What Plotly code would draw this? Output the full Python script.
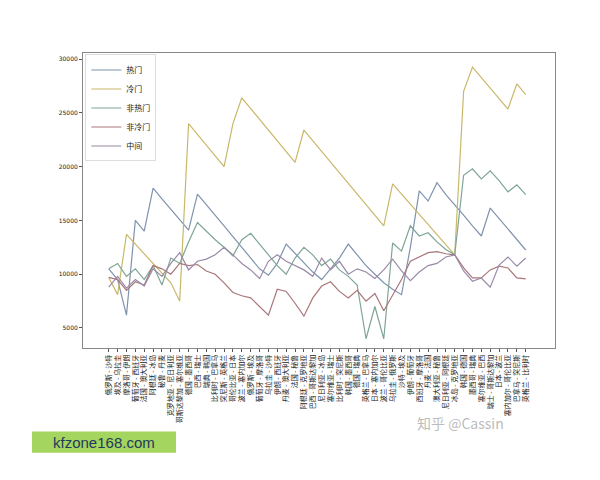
import plotly.graph_objects as go

# ---------- DATA ----------
matches = [
    "俄罗斯 - 沙特", "埃及 - 乌拉圭", "摩洛哥 - 伊朗", "葡萄牙 - 西班牙", "法国 - 澳大利亚",
    "阿根廷 - 冰岛", "秘鲁 - 丹麦", "克罗地亚 - 尼日利亚", "哥斯达黎加 - 塞尔维亚", "德国 - 墨西哥",
    "巴西 - 瑞士", "瑞典 - 韩国", "比利时 - 巴拿马", "突尼斯 - 英格兰", "哥伦比亚 - 日本",
    "波兰 - 塞内加尔", "俄罗斯 - 埃及", "葡萄牙 - 摩洛哥", "乌拉圭 - 沙特", "伊朗 - 西班牙",
    "丹麦 - 澳大利亚", "法国 - 秘鲁", "阿根廷 - 克罗地亚", "巴西 - 哥斯达黎加", "尼日利亚 - 冰岛",
    "塞尔维亚 - 瑞士", "比利时 - 突尼斯", "韩国 - 墨西哥", "德国 - 瑞典", "英格兰 - 巴拿马",
    "日本 - 塞内加尔", "波兰 - 哥伦比亚", "乌拉圭 - 俄罗斯", "沙特 - 埃及", "伊朗 - 葡萄牙",
    "西班牙 - 摩洛哥", "丹麦 - 法国", "澳大利亚 - 秘鲁", "尼日利亚 - 阿根廷", "冰岛 - 克罗地亚",
    "韩国 - 德国", "墨西哥 - 瑞典", "塞尔维亚 - 巴西", "瑞士 - 哥斯达黎加", "日本 - 波兰",
    "塞内加尔 - 哥伦比亚", "巴拿马 - 突尼斯", "英格兰 - 比利时",
]

hot = [10500, 9500, 6200, 15000, 14000, 18000, 17000, 16000, 15000, 14100, 17450, 16500,
       15500, 14500, 13500, 12500, 11500, 10500, 9900, 11000, 12800, 11900, 11000, 10200,
       9500, 10500, 11500, 12800, 11800, 10800, 10000, 9200, 8600, 8100, 12500, 17750,
       16800, 18500, 17400, 16500, 15500, 14500, 13550, 16150, 15200, 14200, 13200, 12250]
cold = [9700, 8100, 13700, 12800, 11900, 11000, 10100, 9200, 7500, 24000, 23000, 22000,
        21000, 20000, 24000, 26400, 25400, 24400, 23400, 22400, 21400, 20400, 23400, 22411,
        21422, 20433, 19444, 18456, 17467, 16478, 15489, 14500, 18400, 17457, 16514, 15571,
        14628, 13686, 12743, 11800, 27000, 29250, 28275, 27300, 26325, 25350, 27700, 26700]
not_hot = [10500, 11000, 9800, 10500, 9500, 10800, 9000, 11500, 11000, 13000, 14800, 14000,
           13200, 12500, 11700, 13200, 13800, 12800, 11800, 10800, 10000, 11500, 12500, 11800,
           10800, 11400, 10400, 9800, 9000, 4000, 7000, 4000, 12900, 12150, 14500, 13550,
           13850, 13000, 12300, 11800, 19200, 19800, 18850, 19600, 18700, 17650, 18300, 17400]
not_cold = [9700, 9500, 8500, 9300, 9000, 10800, 10500, 10000, 11000, 10800, 10900, 10300,
            10000, 9200, 8300, 8000, 7800, 7000, 6200, 8600, 8400, 7300, 6100, 7800,
            8900, 9300, 8400, 7800, 8500, 7500, 8200, 6600, 8000, 9500, 11200, 11600,
            12000, 12100, 11900, 11800, 10580, 9650, 9650, 10400, 10750, 10580, 9650, 9560]
middle = [8800, 9800, 8700, 9500, 8900, 10500, 9800, 11000, 12000, 10400, 11200, 11400,
          11800, 12500, 11800, 11000, 10400, 9600, 11200, 11800, 11200, 10800, 10400, 9800,
          11500, 10400, 11200, 10000, 10500, 10200, 9600, 10400, 11400, 10300, 9400, 10200,
          10800, 11000, 11600, 11800, 10300, 9350, 9650, 8800, 10850, 11600, 10750, 11500]

series = [
    ("热门", hot, "#7f93ad"),
    ("冷门", cold, "#c9b86a"),
    ("非热门", not_hot, "#7fa596"),
    ("非冷门", not_cold, "#a9777a"),
    ("中间", middle, "#9a8aa8"),
]

# ---------- FIGURE ----------
fig = go.Figure()
for name, vals, color in series:
    fig.add_trace(go.Scatter(x=list(range(len(matches))), y=vals, name=name,
                             mode="lines", line=dict(color=color, width=1.2)))

fig.update_layout(
    width=600, height=480,
    margin=dict(l=75, r=53, t=45, b=140),
    paper_bgcolor="white", plot_bgcolor="white",
    font=dict(family="Noto Sans CJK SC", size=8, color="#222"),
    showlegend=True,
    legend=dict(x=0.005, y=0.995, xanchor="left", yanchor="top",
                bordercolor="#ddd", borderwidth=1, bgcolor="white",
                font=dict(size=8, color="#222"), tracegroupgap=0,
                itemwidth=30),
    xaxis=dict(range=[-2.9, 50.3], tickmode="array",
               tickvals=list(range(len(matches))), ticktext=matches,
               tickangle=-90, tickfont=dict(size=7, color="#222"), ticks="outside",
               ticklen=3, tickcolor="#555",
               showgrid=False, zeroline=False, showline=True, linecolor="#888",
               mirror=True),
    yaxis=dict(range=[3140, 30560], tickvals=[5000, 10000, 15000, 20000, 25000, 30000],
               tickformat="d",
               tickfont=dict(family="DejaVu Sans", size=6, color="#222"), ticks="outside",
               ticklen=3, tickcolor="#555",
               showgrid=False, zeroline=False, showline=True, linecolor="#888",
               mirror=True),
    shapes=[dict(type="rect", xref="paper", yref="paper", x0=-0.108, x1=0.197,
                 y0=-0.283, y1=-0.355, fillcolor="#a3d55f", line=dict(width=0),
                 layer="above")],
    annotations=[
        dict(text="kfzone168.com", xref="paper", yref="paper", x=0.045, y=-0.319,
             xanchor="center", yanchor="middle", showarrow=False,
             font=dict(family="Liberation Sans", size=15, color="#1f3a5a")),
        dict(text="知乎 @Cassin", xref="paper", yref="paper", x=0.8, y=-0.255,
             xanchor="center", yanchor="middle", showarrow=False,
             font=dict(size=14, color="rgba(170,170,170,0.8)")),
    ],
)

fig.write_html("out.html")
